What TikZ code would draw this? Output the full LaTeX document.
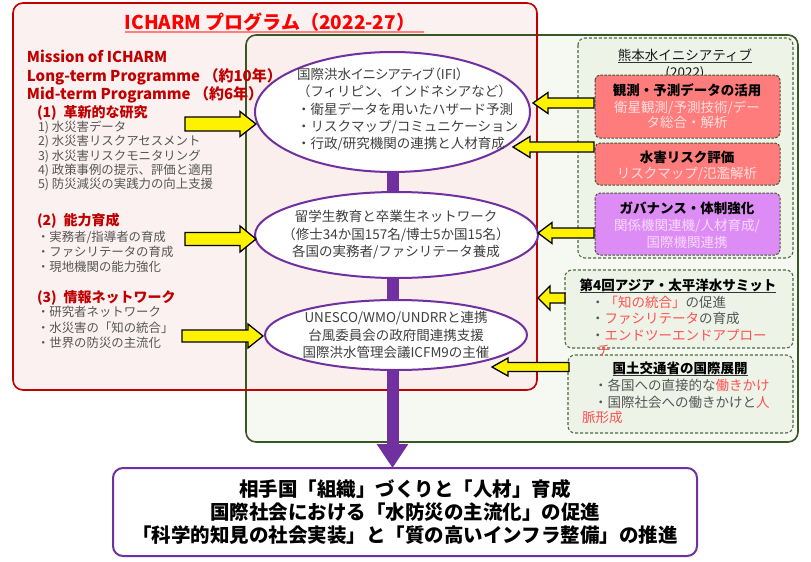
\documentclass[tikz,border=0pt]{standalone}
\usepackage{fontspec}
\setmainfont{Noto Sans CJK JP}
\newfontfamily\jpp{Noto Sans CJK JP}[RawFeature=+palt]
\usetikzlibrary{shapes.geometric,calc,arrows.meta}
\definecolor{dred}{RGB}{192,0,0}
\definecolor{tred}{RGB}{255,0,0}
\definecolor{ulred}{RGB}{255,128,128}
\definecolor{redfill}{RGB}{252,236,236}
\definecolor{gborder}{RGB}{56,87,35}
\definecolor{gfill}{RGB}{246,248,242}
\definecolor{dgfill}{RGB}{238,243,232}
\definecolor{dgborder}{RGB}{80,105,65}
\definecolor{purp}{RGB}{112,48,160}
\definecolor{txt}{RGB}{64,64,64}
\definecolor{gtxt}{RGB}{85,85,85}
\definecolor{salmon}{RGB}{255,124,124}
\definecolor{violetbox}{RGB}{222,140,245}
\definecolor{hired}{RGB}{255,80,80}
\definecolor{pinkw}{RGB}{255,224,224}
\definecolor{lavw}{RGB}{247,218,252}
\newcommand{\yarw}[5]{\draw[yarrow] ($(#1)+(0,-#4)$) -- ($(#2)+(#3,-#4)$) -- ($(#2)+(#3,-#5)$) -- (#2) -- ($(#2)+(#3,#5)$) -- ($(#2)+(#3,#4)$) -- ($(#1)+(0,#4)$) -- cycle;}
\begin{document}
\begin{tikzpicture}[x=1pt,y=-1pt,
  every node/.style={inner sep=0pt, outer sep=0pt},
  redbox/.style={draw=dred, line width=1.6pt, rounded corners=10pt},
  greenbox/.style={draw=gborder, line width=1.6pt, rounded corners=10pt},
  dbox/.style={draw=dgborder, dash pattern=on 3pt off 2pt, line width=1.1pt, rounded corners=7pt},
  cbox/.style={draw=dgborder!80!black, dash pattern=on 2.5pt off 1.5pt, line width=1pt, rounded corners=5pt},
  ell/.style={ellipse, draw=purp, line width=2pt, fill=white, inner sep=0pt},
  yarrow/.style={fill=yellow, draw=black, line width=1.3pt, line join=miter},
  bar/.style={draw=purp, line width=12pt},
  etx/.style={text=txt, font=\fontsize{13.5}{17.5}\selectfont, align=center},
  lmis/.style={text=dred, font=\bfseries\fontsize{15}{18}\selectfont, anchor=base west},
  lhead/.style={text=dred, font=\bfseries\fontsize{14}{16}\selectfont, anchor=base west},
  litem/.style={text=gtxt, font=\fontsize{12.4}{14}\selectfont, anchor=base west},
  rtitle/.style={font=\bfseries\fontsize{13.5}{16}\selectfont, anchor=base, text=black},
  rsub/.style={font=\fontsize{13.5}{16}\selectfont, anchor=base},
  ritem/.style={font=\fontsize{13.5}{16}\selectfont, anchor=base west, text=gtxt}]
\useasboundingbox (0,0) rectangle (811,562);
\path[fill=white] (0,0) rectangle (811,562);
% big frames
\path[fill=gfill, rounded corners=10pt] (246,35) rectangle (798,442);
\path[fill=redfill, fill opacity=0.7, rounded corners=10pt] (13,3) rectangle (537,390);
\draw[greenbox] (246,35) rectangle (798,442);
\draw[redbox] (13,3) rectangle (537,390);
% right dashed containers
\draw[dbox, fill=dgfill] (578,38) rectangle (793,258);
\draw[dbox, fill=dgfill] (565,270) rectangle (793,348);
\draw[dbox, fill=dgfill] (568,355) rectangle (793,433);
% title
\node[anchor=base, text=tred, font=\bfseries\fontsize{19}{22}\selectfont] (ti) at (270,29) {ICHARM プログラム（2022-27）};
\draw[ulred, line width=1.6pt] ([yshift=-3pt]ti.base west) -- ([xshift=9pt,yshift=-3pt]ti.base east);
% left texts
\node[lmis] (m1) at (27,62.5) {Mission of ICHARM};
\node[lmis] (m2) at (27,81) {Long-term Programme （約10年）};
\node[lmis] (m3) at (27,99.5) {Mid-term Programme （約6年）};
\node[lhead] (h1) at (37,117) {(1)\hspace{7pt}革新的な研究};
\foreach \s [count=\i from 0] in {{1) 水災害データ},{2) 水災害リスクアセスメント},{3) 水災害リスクモニタリング},{4) 政策事例の提示、評価と適用},{5) 防災減災の実践力の向上支援}}
  \node[litem] (a\i) at (38,{131.6+14.25*\i}) {\s};
\node[lhead] (h2) at (37,225) {(2)\hspace{7pt}能力育成};
\foreach \s [count=\i from 0] in {{・実務者/指導者の育成},{・ファシリテータの育成},{・現地機関の能力強化}}
  \node[litem] (b\i) at (37,{241.6+15*\i}) {\s};
\node[lhead] (h3) at (37,302) {(3)\hspace{7pt}情報ネットワーク};
\foreach \s [count=\i from 0] in {{・研究者ネットワーク},{・水災害の「知の統合」},{・世界の防災の主流化}}
  \node[litem] (c\i) at (37,{316.6+15.4*\i}) {\s};
% goal box
\node[draw=purp, line width=2pt, rounded corners=10pt, minimum width=584pt, minimum height=88pt, fill=white, align=center, font=\bfseries\fontsize{19.5}{23}\selectfont] (goal) at (405,512) {相手国「組織」づくりと「人材」育成\\国際社会における「水防災の主流化」の促進\\「科学的知見の社会実装」と「質の高いインフラ整備」の推進};
% ellipses and purple connectors
\node[ell, minimum width=275pt, minimum height=120pt] (e1) at (392.5,112) {};
\node[ell, minimum width=283pt, minimum height=86pt] (e2) at (396.5,235) {};
\node[ell, minimum width=262pt, minimum height=70pt] (e3) at (396,335) {};
\draw[bar] (e1.south) -- (e1.south |- e2.north);
\draw[bar] (e1.south |- e2.south) -- (e1.south |- e3.north);
\draw[bar, -{Triangle[width=30pt,length=24pt]}] (e1.south |- e3.south) -- (e1.south |- goal.north);
\node[etx, align=left, anchor=west, font=\fontsize{13.5}{17.3}\selectfont] (e1t) at (297,109.5) {{\jpp 国際洪水イニシアティブ（IFI）}\\（フィリピン、インドネシアなど）\\・衛星データを用いたハザード予測\\・リスクマップ/コミュニケーション\\・行政/研究機関の連携と人材育成};
\node[etx] (e2t) at (396,235) {留学生教育と卒業生ネットワーク\\（修士34か国157名/博士5か国15名）\\各国の実務者/ファシリテータ養成};
\node[etx] (e3t) at (396,335) {UNESCO/WMO/UNDRRと連携\\台風委員会の政府間連携支援\\国際洪水管理会議ICFM9の主催};
% Kumamoto initiative
\node[rsub, text=black!90] (kt) at (685,60) {熊本水イニシアティブ};
\draw[black!80, line width=0.9pt] ([yshift=-2.5pt]kt.base west) -- ([yshift=-2.5pt]kt.base east);
\node[rsub, text=black!90] (ky) at (685,77.5) {(2022)};
\draw[cbox, fill=salmon] (595,75) rectangle (780,138);
\node[rtitle] (r1t) at (687,95) {観測・予測データの活用};
\node[rsub, text=pinkw] (r1a) at (687,112) {衛星観測/予測技術/デー};
\node[rsub, text=pinkw] (r1b) at (687,127) {タ総合・解析};
\draw[cbox, fill=salmon] (595,143) rectangle (780,185);
\node[rtitle] (r2t) at (687,162) {水害リスク評価};
\node[rsub, text=pinkw] (r2a) at (687,178) {リスクマップ/氾濫解析};
\draw[cbox, fill=violetbox] (595,193) rectangle (780,255);
\node[rtitle] (r3t) at (687,213) {ガバナンス・体制強化};
\node[rsub, text=lavw] (r3a) at (687,230) {関係機関連機/人材育成/};
\node[rsub, text=lavw] (r3b) at (687,247) {国際機関連携};
% summit
\node[rtitle] (st) at (678,290) {第4回アジア・太平洋水サミット};
\draw[black!80, line width=0.9pt] ([yshift=-2.5pt]st.base west) -- ([yshift=-2.5pt]st.base east);
\node[ritem] (s1) at (591,307) {・\textcolor{hired}{「知の統合」}の促進};
\node[ritem] (s2) at (591,323) {・\textcolor{hired}{ファシリテータ}の育成};
\node[ritem] (s3) at (591,340) {・\textcolor{hired}{エンドツーエンドアプロー}};
\node[ritem, text=hired] (s4) at (597,355) {チ};
% MLIT
\node[rtitle] (mt) at (680,373) {国土交通省の国際展開};
\draw[black!80, line width=0.9pt] ([yshift=-2.5pt]mt.base west) -- ([yshift=-2.5pt]mt.base east);
\node[ritem] (t1) at (594,390) {・各国への直接的な\textcolor{hired}{働きかけ}};
\node[ritem] (t2) at (594,407) {・国際社会への働きかけと\textcolor{hired}{人}};
\node[ritem, text=hired] (t3) at (582,422) {脈形成};
% yellow arrows
\coordinate (la1t) at (185,124); \coordinate (la1h) at (256,124);
\coordinate (la2t) at (185,239); \coordinate (la2h) at (256,239);
\coordinate (la3t) at (182,336); \coordinate (la3h) at (263,336);
\coordinate (ra1t) at (594,103); \coordinate (ra1h) at (533,103);
\coordinate (ra2t) at (594,147); \coordinate (ra2h) at (513,147);
\coordinate (ra3t) at (594,233); \coordinate (ra3h) at (538,233);
\coordinate (ra4t) at (565,298); \coordinate (ra4h) at (538,298);
\coordinate (ra5t) at (569,367); \coordinate (ra5h) at (492,367);
\yarw{la1t}{la1h}{-16}{7}{12.5}
\yarw{la2t}{la2h}{-16}{6.5}{13}
\yarw{la3t}{la3h}{-15}{6}{12}
\yarw{ra1t}{ra1h}{15}{5}{10.5}
\yarw{ra2t}{ra2h}{17}{5}{10.5}
\yarw{ra3t}{ra3h}{14}{5}{10.5}
\yarw{ra4t}{ra4h}{12}{5}{12}
\yarw{ra5t}{ra5h}{16}{4.5}{9}
\end{tikzpicture}
\end{document}
